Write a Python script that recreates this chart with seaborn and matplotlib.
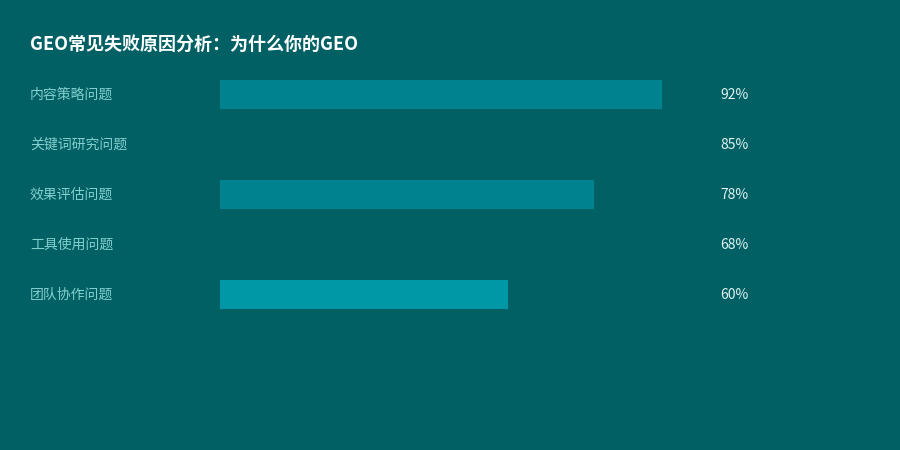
import matplotlib
matplotlib.use("Agg")
import matplotlib.pyplot as plt
import matplotlib.transforms as mtransforms
import pandas as pd
import seaborn as sns

# 数据
categories = ["内容策略问题", "关键词研究问题", "效果评估问题", "工具使用问题", "团队协作问题"]
values = [92, 85, 78, 68, 60]
bar_colors = ["#00838F", "#006064", "#00838F", "#006064", "#0097A7"]
title = "GEO常见失败原因分析：为什么你的GEO"

BG = "#006064"

sns.set_theme(style="white")
plt.rcParams["font.family"] = ["Noto Sans CJK SC", "DejaVu Sans"]

df = pd.DataFrame({"category": categories, "value": values})

fig = plt.figure(figsize=(9, 4.5), dpi=100)
fig.patch.set_facecolor(BG)
# 坐标区：x 220-700 px，行中心 94..294 px
ax = fig.add_axes([220 / 900, (450 - 319) / 450, 480 / 900, 250 / 450])
ax.set_facecolor(BG)

sns.barplot(data=df, x="value", y="category", hue="category",
            palette=bar_colors, legend=False, width=0.58,
            saturation=1, linewidth=0, edgecolor="none", ax=ax, orient="h")

ax.set_xlim(0, 100)
ax.set_ylim(4.5, -0.5)
ax.set_xlabel("")
ax.set_ylabel("")
ax.set_xticks([])
ax.set_yticks([])
for s in ax.spines.values():
    s.set_visible(False)

trans = mtransforms.blended_transform_factory(fig.transFigure, ax.transData)
for i, (cat, v) in enumerate(zip(categories, values)):
    ax.text(30 / 900, i + 0.02, cat, transform=trans, ha="left", va="center",
            fontsize=10, color="#84CFCF")
    ax.text(720 / 900, i + 0.02, f"{v}%", transform=trans, ha="left", va="center",
            fontsize=10, color="#E0F2F1")

fig.text(30 / 900, 1 - 44 / 450, title, ha="left", va="center",
         fontsize=13, fontweight="bold", color="white")

fig.savefig("out.png", dpi=100, facecolor=BG)
